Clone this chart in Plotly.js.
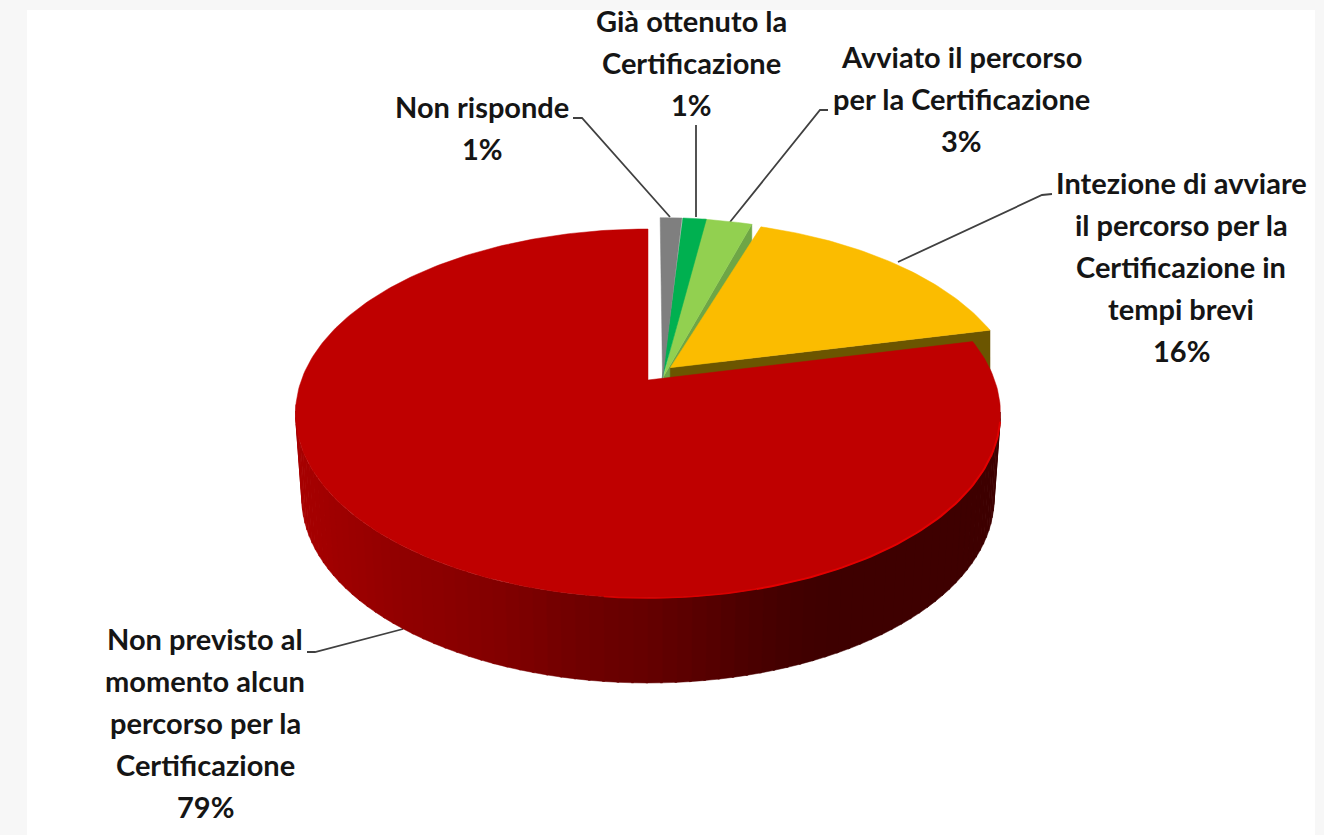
<!DOCTYPE html>
<html>
<head>
<meta charset="utf-8">
<script src="https://cdn.plot.ly/plotly-3.0.1.min.js"></script>
<style>html,body{margin:0;padding:0;background:#f7f7f7}#chart{width:1324px;height:835px}</style>
</head>
<body>
<div id="chart"></div>
<script>
// ---- data (clockwise from 12 o'clock) ----
const categories = [
  "Non risponde",
  "Già ottenuto la<br>Certificazione",
  "Avviato il percorso<br>per la Certificazione",
  "Intezione di avviare<br>il percorso per la<br>Certificazione in<br>tempi brevi",
  "Non previsto al<br>momento alcun<br>percorso per la<br>Certificazione"
];
const values = [1.2, 1.3, 2.7, 16.2, 78.6];
const percentLabels = ["1%", "1%", "3%", "16%", "79%"];
const sliceColors = ["#7f7f7f", "#00b050", "#92d050", "#fbbc00", "#bf0000"];

// ---- style / layout parameters ----
const labelCenterX = [482, 691, 961, 1181, 205];
const labelTopY = [106, 20, 56, 182, 638];
const lineStep = 42.2;
const leaders = [
  {x:[573,582,670], y:[118,118,217]},
  {x:[696,696], y:[125,217]},
  {x:[828,820,730], y:[110,110,222]},
  {x:[1052,1042,898], y:[194,195,262]},
  {x:[307,315,403], y:[652,652,629]}
];
// explosion of each slice on the pie plane: arc offset and apex offset
const arcOffset = [[.042,.09],[.045,.09],[.035,.09],[.065,.07],[0,0]];
const apexOffset = [[.042,0],[.04,0],[.045,.02],[.065,.07],[0,0]];
const cx = 648, cy = 380;
const persp = 0.1816, scaleX = 346.6, scaleY = 178.4, depth = 85, bottomShrink = 0.982;

function proj(u, v) {
  const d = 1 + persp * v;
  return [cx + scaleX * u / d, cy - scaleY * v / d];
}
const rad = d => d * Math.PI / 180;
const total = values.reduce((a, b) => a + b, 0);
let acc = 0;
const spans = values.map(v => { const s = acc; acc += v; return [s / total * 360, acc / total * 360]; });

function sliceOutline(i) {
  const [a0, a1] = spans[i], [oa, ob] = arcOffset[i], [pa, pb] = apexOffset[i];
  const apex = proj(pa, pb), pts = [apex];
  const n = Math.max(4, Math.ceil(a1 - a0));
  for (let k = 0; k <= n; k++) {
    const t = rad(a0 + (a1 - a0) * k / n);
    pts.push(proj(Math.sin(t) + oa, Math.cos(t) + ob));
  }
  pts.push(apex);
  return pts;
}
const poly = (pts, color) => ({
  type: "scatter", mode: "lines", x: pts.map(p => p[0]), y: pts.map(p => p[1]),
  fill: "toself", fillcolor: color, line: {color: color, width: 0.5},
  hoverinfo: "skip", showlegend: false
});
function sideWall(i, color) {
  const o = sliceOutline(i), apex = o[0], end = o[o.length - 2];
  return poly([apex, end, [end[0], end[1] + depth], [apex[0], apex[1] + depth], apex], color);
}

// gradient of the red wall, dark to the right
const wallStops = [[290,168],[400,145],[500,130],[573,112],[650,100],[780,68],[830,62],[1010,62]];
function wallColor(x) {
  for (let i = 1; i < wallStops.length; i++) {
    if (x <= wallStops[i][0]) {
      const [x0, r0] = wallStops[i-1], [x1, r1] = wallStops[i];
      return `rgb(${Math.round(r0 + (r1 - r0) * (x - x0) / (x1 - x0))},0,0)`;
    }
  }
  return "rgb(62,0,0)";
}
function rim(deg) {
  const t = rad(deg);
  return proj(Math.sin(t), Math.cos(t));
}
const wallTraces = [];
const wallFrom = 100, wallTo = 262, wallStep = 2;
for (let d = wallFrom; d < wallTo; d += wallStep) {
  const a = rim(d), b = rim(d + wallStep + 0.3);
  const low = p => [cx + (p[0] - cx) * bottomShrink, p[1] + depth];
  wallTraces.push(poly([a, b, low(b), low(a), a], wallColor((a[0] + b[0]) / 2)));
}
function rimLine(from, to, color, width) {
  const pts = [];
  for (let d = from; d <= to; d += 1) pts.push(rim(d));
  return {type: "scatter", mode: "lines", x: pts.map(p => p[0]), y: pts.map(p => p[1]),
    line: {color: color, width: width}, hoverinfo: "skip", showlegend: false};
}

const leaderTraces = leaders.map(l => ({
  type: "scatter", mode: "lines", x: l.x, y: l.y,
  line: {color: "#404040", width: 1.8}, hoverinfo: "skip", showlegend: false
}));

const traces = [
  ...leaderTraces,
  sideWall(2, "#6ea646"),
  poly(sliceOutline(2), sliceColors[2]),
  poly(sliceOutline(1), sliceColors[1]),
  poly(sliceOutline(0), sliceColors[0]),
  sideWall(3, "#6b5500"),
  poly(sliceOutline(3), sliceColors[3]),
  ...wallTraces,
  poly(sliceOutline(4), sliceColors[4]),
  rimLine(103, 165, "#e20000", 2),
  rimLine(165, 186, "#d80000", 1.6)
];

const annotations = [];
categories.forEach((c, i) => {
  c.split("<br>").concat(percentLabels[i]).forEach((line, k) => {
    annotations.push({
      x: labelCenterX[i], y: labelTopY[i] + k * lineStep, xref: "x", yref: "y",
      text: line, showarrow: false, xanchor: "center", yanchor: "middle",
      font: {family: "Lato, Carlito, sans-serif", size: 29, color: "#151515", weight: 700}
    });
  });
});

Plotly.newPlot("chart", traces, {
  width: 1324, height: 835,
  margin: {l: 0, r: 0, t: 0, b: 0, pad: 0},
  paper_bgcolor: "#f7f7f7", plot_bgcolor: "rgba(0,0,0,0)",
  showlegend: false,
  xaxis: {range: [0, 1324], visible: false, fixedrange: true},
  yaxis: {range: [835, 0], visible: false, fixedrange: true},
  shapes: [{type: "rect", layer: "below", xref: "x", yref: "y", x0: 27, x1: 1315, y0: 10, y1: 835,
    fillcolor: "#ffffff", line: {width: 0}}],
  annotations: annotations
}, {displayModeBar: false, staticPlot: true});
</script>
</body>
</html>
